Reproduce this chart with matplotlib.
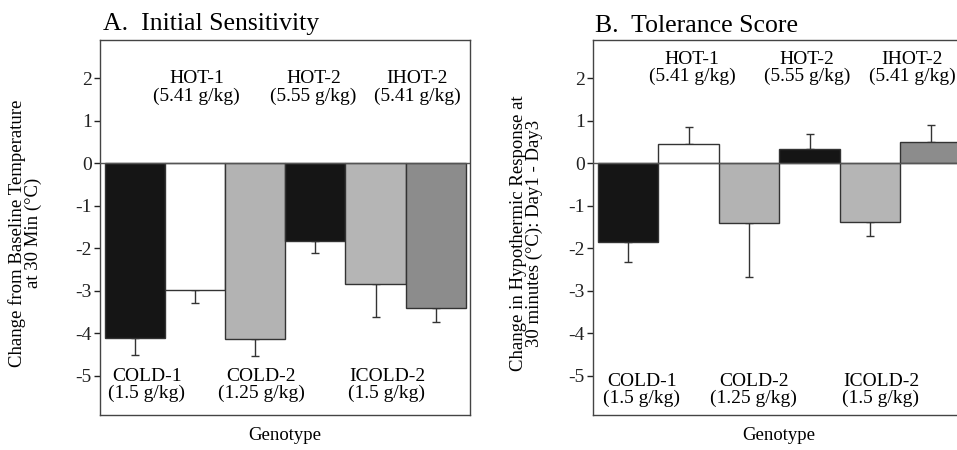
import matplotlib
matplotlib.use('Agg')
import matplotlib.pyplot as plt

# Genotype groups, left to right
groups = ['COLD-1', 'HOT-1', 'COLD-2', 'HOT-2', 'ICOLD-2', 'IHOT-2']
bar_colors = ['#151515', '#ffffff', '#b3b3b3', '#151515', '#b5b5b5', '#8c8c8c']

# A. Initial sensitivity (change from baseline at 30 min, deg C) and SEM
initial_means = [-4.12, -2.99, -4.15, -1.83, -2.85, -3.42]
initial_sem = [0.40, 0.31, 0.39, 0.29, 0.77, 0.31]

# B. Tolerance score (Day1 - Day3) and SEM
tolerance_means = [-1.85, 0.45, -1.42, 0.34, -1.38, 0.50]
tolerance_sem = [0.47, 0.41, 1.25, 0.34, 0.34, 0.40]

hot_labels = ['HOT-1\n(5.41 g/kg)', 'HOT-2\n(5.55 g/kg)', 'IHOT-2\n(5.41 g/kg)']
cold_labels = ['COLD-1\n(1.5 g/kg)', 'COLD-2\n(1.25 g/kg)', 'ICOLD-2\n(1.5 g/kg)']

plt.rcParams['font.family'] = ['Liberation Serif', 'DejaVu Serif']

fig = plt.figure(figsize=(9.57, 4.5), dpi=100)
axA = fig.add_axes([100 / 957, 35 / 450, 370 / 957, 375 / 450])
axB = fig.add_axes([593 / 957, 35 / 450, 372 / 957, 375 / 450])


def draw_panel(ax, means, sem, ylabel, hot_x, hot_y, cold_x, cold_y, label_x):
    x = list(range(len(groups)))
    ax.bar(x, means, width=1.0, color=bar_colors, edgecolor='#333333', linewidth=1.0, zorder=2)
    lower = [s if m < 0 else 0 for m, s in zip(means, sem)]
    upper = [s if m >= 0 else 0 for m, s in zip(means, sem)]
    ax.errorbar(x, means, yerr=[lower, upper], fmt='none', ecolor='#333333',
                elinewidth=1.0, capsize=3, capthick=1.0, zorder=1)
    ax.axhline(0, color='#555555', lw=1.0, zorder=3)
    ax.set_xlim(-0.58, 5.57)
    ax.set_ylim(-5.93, 2.9)
    ax.set_xticks([])
    ax.set_yticks([-5, -4, -3, -2, -1, 0, 1, 2])
    ax.set_yticklabels(['-5', '-4', '-3', '-2', '-1', '0', '1', '2'])
    ax.tick_params(axis='y', direction='out', length=4, width=1, labelsize=14, pad=2, colors='#222222')
    for s in ax.spines.values():
        s.set_color('#444444')
        s.set_linewidth(1.0)
    ax.set_ylabel(ylabel, fontsize=13.5, linespacing=0.9)
    ax.yaxis.set_label_coords(label_x, 0.485)
    ax.set_xlabel('Genotype', fontsize=13.5, labelpad=9)
    for xx, lab in zip(hot_x, hot_labels):
        ax.text(xx, hot_y, lab, ha='center', va='center', fontsize=14, linespacing=1.0)
    for xx, lab in zip(cold_x, cold_labels):
        ax.text(xx, cold_y, lab, ha='center', va='center', fontsize=14, linespacing=1.0)


draw_panel(axA, initial_means, initial_sem,
           'Change from Baseline Temperature\nat 30 Min (°C)',
           [1.03, 2.97, 4.69], 1.78, [0.2, 2.1, 4.19], -5.22, -0.157)
draw_panel(axB, tolerance_means, tolerance_sem,
           'Change in Hypothermic Response at\n30 minutes (°C): Day1 - Day3',
           [1.06, 2.96, 4.7], 2.24, [0.23, 2.08, 4.18], -5.34, -0.134)

fig.text(103 / 957, 1 - 30 / 450, 'A.  Initial Sensitivity', fontsize=18.5, va='baseline')
fig.text(595 / 957, 1 - 32 / 450, 'B.  Tolerance Score', fontsize=18.5, va='baseline')

fig.savefig('out.png', dpi=100)
